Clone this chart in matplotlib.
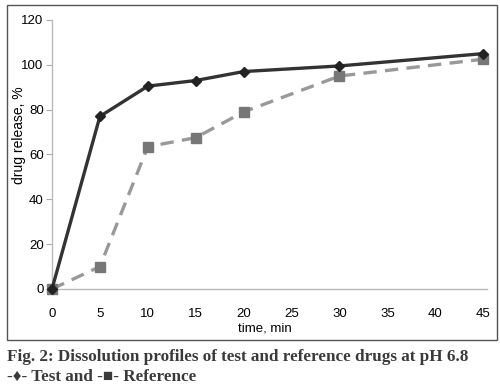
import matplotlib
matplotlib.use("Agg")
import matplotlib.pyplot as plt
from matplotlib.patches import Rectangle

# time points, min
time = [0, 5, 10, 15, 20, 30, 45]
# drug release, %
test = [0, 77, 90.5, 93, 97, 99.5, 105]
reference = [0, 10, 63.5, 67.5, 79, 95, 102.5]

xticks = [0, 5, 10, 15, 20, 25, 30, 35, 40, 45]
yticks = [0, 20, 40, 60, 80, 100, 120]

plt.rcParams['font.family'] = ['Liberation Sans', 'DejaVu Sans']

fig = plt.figure(figsize=(5, 3.89), dpi=100)
ax = fig.add_axes([0.104, 0.2571, 0.87, 0.6915])

ax.plot(time, reference, color='#999999', lw=2.4, ls=(0, (4, 2.5)),
        marker='s', ms=6.5, mfc='#777777', mec='#777777', zorder=2)
ax.plot(time, test, color='#333333', lw=2.4,
        marker='D', ms=5, mfc='#222222', mec='#222222', zorder=3)

ax.set_xlim(0, 45.4)
ax.set_ylim(0, 120)
ax.set_xticks(xticks)
ax.set_yticks(yticks)
ax.tick_params(axis='x', length=0, pad=14, labelsize=9.5)
ax.tick_params(axis='y', length=4, color='#aaaaaa', labelsize=9.5, pad=2)
for s in ['top', 'right']:
    ax.spines[s].set_visible(False)
for s in ['left', 'bottom']:
    ax.spines[s].set_color('#bbbbbb')
    ax.spines[s].set_linewidth(1)
for ln in ax.lines:
    ln.set_clip_on(False)

ax.set_xlabel('time, min', fontsize=9.5)
ax.xaxis.set_label_coords(0.49, -0.125)
ax.set_ylabel('drug release, %', fontsize=10)
ax.yaxis.set_label_coords(-0.06, 0.57)

# outer frame
fig.patches.append(Rectangle((7 / 500, 1 - 340 / 389), 490 / 500, 335 / 389,
                             transform=fig.transFigure, fill=False,
                             edgecolor='#555555', lw=1))

cap = ['Liberation Serif', 'DejaVu Serif']
fig.text(7 / 500, 1 - 357 / 389,
         'Fig. 2: Dissolution profiles of test and reference drugs at pH 6.8',
         family=cap, fontsize=12.3, fontweight='bold', color='#3a3a3a', va='center')
fig.text(7 / 500, 1 - 377 / 389, '-\u2666- Test and -\u25a0- Reference',
         family=cap, fontsize=12.3, fontweight='bold', color='#3a3a3a', va='center')

fig.savefig('out.png', dpi=100)
